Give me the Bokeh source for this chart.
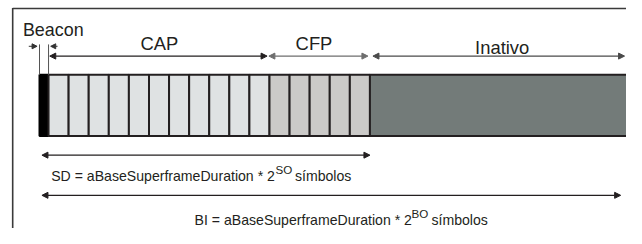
from bokeh.plotting import figure
from bokeh.models import Range1d, Arrow, NormalHead
from bokeh.core.properties import value
from bokeh.embed import file_html
from bokeh.resources import INLINE

# ---- data (superframe structure, in slot units) ----
segments = ["Beacon", "CAP", "CFP", "Inativo"]
segment_len = [0.45, 11.0, 5.0, 13.0]
segment_cells = [1, 11, 5, 1]
segment_fill = ["#000000", "#dfe2e3", "#cbcac8", "#737b79"]
arrow_colors = ["#555555", "#231f20", "#6e6e6e", "#4a4a4a"]
sd_label = ["SD = aBaseSuperframeDuration * 2", "SO", "símbolos"]
bi_label = ["BI = aBaseSuperframeDuration * 2", "BO", "símbolos"]

# ---- layout helpers (reference-pixel layout mapped into the canvas) ----
SLOT_PX = 20.6
X0 = 40.0
def X(r):
    return (r - X0) / SLOT_PX

FONT = value("Liberation Sans")
DARK = "#231f20"
K = 0.97  # font scale of canvas vs reference

def fs(px):
    return "%.1fpx" % (px * K)

p = figure(width=626, height=228, x_range=Range1d(X(0), X(642)),
           y_range=Range1d(244, 0), output_backend="svg",
           toolbar_location=None, x_axis_type=None, y_axis_type=None,
           min_border=0)
p.grid.visible = False
p.outline_line_color = None
p.background_fill_color = "white"
p.border_fill_color = "white"

# frame
p.line([X(12.5), X(12.5)], [8, 244], line_color="#3a3a3a", line_width=1.6)
p.line([X(12.5), X(642)], [8.5, 8.5], line_color="#3a3a3a", line_width=1.6)

# segments / cells
edges = [0.0]
for L in segment_len:
    edges.append(edges[-1] + L)

BAR_TOP, BAR_BOT = 79.5, 145
for i, name in enumerate(segments):
    n = segment_cells[i]
    w = segment_len[i] / n
    lefts = [edges[i] + k * w for k in range(n)]
    rights = [l + w for l in lefts]
    p.quad(left=lefts, right=rights, top=BAR_TOP, bottom=BAR_BOT,
           fill_color=segment_fill[i],
           line_color="#000000" if i == 0 else DARK, line_width=2)

def arrow(x1, x2, y, color, both=True, size=6, lw=1.2):
    head = lambda: NormalHead(size=size, fill_color=color, line_color=color, line_width=1)
    a = Arrow(x_start=x1, y_start=y, x_end=x2, y_end=y,
              line_color=color, line_width=lw,
              start=head() if both else None, end=head())
    p.add_layout(a)

# beacon markers
for xe in (edges[0], edges[1]):
    p.line([xe, xe], [47, BAR_TOP], line_color="#555555", line_width=1)
arrow(X(29), X(37.5), 49, "#333333", both=False, size=5, lw=1)
arrow(X(58.5), X(51.5), 49, "#333333", both=False, size=5, lw=1)

# segment arrows
ARROW_Y = 59.5
arrow(edges[1] + 0.06, edges[2] - 0.12, ARROW_Y, arrow_colors[1])
arrow(edges[2] - 0.03, edges[3] - 0.1, ARROW_Y, arrow_colors[2])
arrow(edges[3] + 0.15, X(640), ARROW_Y, arrow_colors[3])

# segment labels
p.text(x=[X(23)], y=[32], text=[segments[0]], text_font=FONT,
       text_font_size=fs(18.5), text_color=DARK,
       text_align="left", text_baseline="alphabetic")
label_x = [X(163), X(321.5), X(514.5)]
label_y = [46, 46, 50]
for k, name in enumerate(segments[1:]):
    p.text(x=[label_x[k]], y=[label_y[k]], text=[name], text_font=FONT,
           text_font_size=fs(19), text_color=DARK,
           text_align="center", text_baseline="alphabetic")

# SD / BI arrows
arrow(X(42.5), edges[3], 165.5, DARK)
arrow(X(42.5), X(636), 208.5, DARK)

def formula(parts, x_main, x_sup, x_tail, y):
    p.text(x=[X(x_main)], y=[y], text=[parts[0]], text_font=FONT,
           text_font_size=fs(14.5), text_color=DARK,
           text_align="left", text_baseline="alphabetic")
    p.text(x=[X(x_sup)], y=[y - 7], text=[parts[1]], text_font=FONT,
           text_font_size=fs(12), text_color=DARK,
           text_align="left", text_baseline="alphabetic")
    p.text(x=[X(x_tail)], y=[y], text=[parts[2]], text_font=FONT,
           text_font_size=fs(14.5), text_color=DARK,
           text_align="left", text_baseline="alphabetic")

formula(sd_label, 52, 282, 302, 188)
formula(bi_label, 199, 421.5, 442, 235)

open("out.html", "w").write(file_html(p, INLINE))
